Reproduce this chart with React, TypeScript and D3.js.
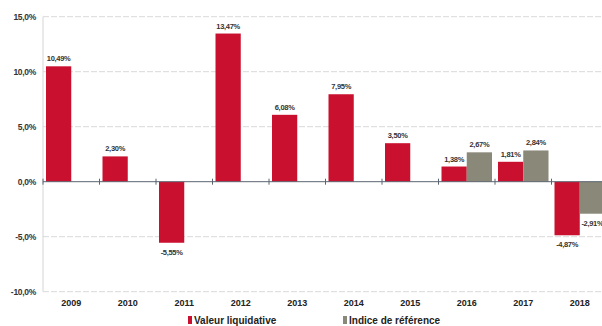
import React from "react";
import * as d3 from "d3";

const years = ["2009", "2010", "2011", "2012", "2013", "2014", "2015", "2016", "2017", "2018"];
const fundValues: (number | null)[] = [10.49, 2.3, -5.55, 13.47, 6.08, 7.95, 3.5, 1.38, 1.81, -4.87];
const benchValues: (number | null)[] = [null, null, null, null, null, null, null, 2.67, 2.84, -2.91];
const yTicks = [15, 10, 5, 0, -5, -10];
const seriesNames = ["Valeur liquidative", "Indice de référence"];
const seriesColors = ["#c9112f", "#8a8878"];

const W = 602;
const H = 326;
const left = 43;
const right = 608;
const top = 16.7;
const bottom = 291.7;

const fmt = (v: number) => v.toFixed(2).replace(".", ",") + "%";
const fmtTick = (v: number) => v.toFixed(1).replace(".", ",") + "%";

export default function App() {
  const y = d3.scaleLinear().domain([-10, 15]).range([bottom, top]);
  const x0 = d3.scaleBand<string>().domain(years).range([left, right]).padding(0);
  const bw = x0.bandwidth();
  const x1 = d3.scaleBand<string>().domain(["a", "b"]).range([3, bw - 3]).padding(0);
  const font = "'Liberation Sans', Arial, sans-serif";
  const series = [fundValues, benchValues];

  return (
    <div style={{ position: "fixed", left: 0, top: 0 }}>
      <svg width={W} height={H} style={{ display: "block", background: "#fff" }} fontFamily={font}>
        {yTicks.map((t) => (
          t !== 0 ? (
            <line key={"g" + t} x1={left} x2={W} y1={y(t)} y2={y(t)} stroke="#d9d9d9" strokeWidth={1} strokeDasharray="6,2" />
          ) : null
        ))}
        <line x1={left} x2={left} y1={top} y2={bottom} stroke="#d5d5d5" strokeWidth={1} />
        {yTicks.map((t) => (
          <text key={"t" + t} x={36} y={y(t) + 3} textAnchor="end" fontSize={8.5} fontWeight="bold" fill="#333" letterSpacing={-0.3}>
            {fmtTick(t)}
          </text>
        ))}
        {series.map((vals, si) =>
          vals.map((v, i) => {
            if (v === null) return null;
            const xp = (x0(years[i]) as number) + (x1(si === 0 ? "a" : "b") as number);
            const w = x1.bandwidth();
            const y0 = y(0);
            const yv = y(v);
            return (
              <g key={"b" + si + "-" + i}>
                <rect x={xp} y={Math.min(y0, yv)} width={w} height={Math.abs(yv - y0)} fill={seriesColors[si]} />
                <text
                  x={xp + w / 2}
                  y={v >= 0 ? yv - 5 : yv + 12}
                  textAnchor="middle"
                  fontSize={7.5}
                  fontWeight="bold"
                  fill="#333"
                  letterSpacing={-0.3}
                >
                  {fmt(v)}
                </text>
              </g>
            );
          })
        )}
        <line x1={left} x2={W} y1={y(0)} y2={y(0)} stroke="#5a6470" strokeWidth={1} />
        {years.map((yr) => (
          <line key={"k" + yr} x1={x0(yr) as number} x2={x0(yr) as number} y1={y(0) - 3} y2={y(0) + 3} stroke="#5a6470" strokeWidth={1} />
        ))}
        {years.map((yr) => (
          <text key={"x" + yr} x={(x0(yr) as number) + bw / 2} y={306} textAnchor="middle" fontSize={9} fontWeight="bold" fill="#222">
            {yr}
          </text>
        ))}
        <rect x={188} y={316} width={4} height={8} fill={seriesColors[0]} />
        <text x={194} y={323.5} fontSize={10} fontWeight="bold" fill="#222">{seriesNames[0]}</text>
        <rect x={343} y={316} width={4} height={8} fill={seriesColors[1]} />
        <text x={349} y={323.5} fontSize={10} fontWeight="bold" fill="#222">{seriesNames[1]}</text>
      </svg>
    </div>
  );
}
